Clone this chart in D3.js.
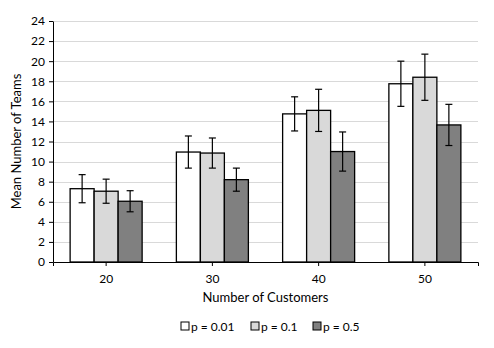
<!DOCTYPE html>
<html>
<head>
<meta charset="utf-8">
<script src="https://cdn.jsdelivr.net/npm/d3@7"></script>
<style>
  body { margin: 0; background: #fff; }
  text { font-family: Lato, "Open Sans", sans-serif; fill: #000; }
</style>
</head>
<body>
<script>
// chart data
var categories = ["20", "30", "40", "50"];
var seriesNames = ["p = 0.01", "p = 0.1", "p = 0.5"];
var seriesColors = ["#ffffff", "#d9d9d9", "#808080"];
var meanP001 = [7.3, 10.95, 14.75, 17.75];
var meanP01  = [7.05, 10.85, 15.1, 18.4];
var meanP05  = [6.05, 8.2, 11.0, 13.65];
var errP001 = [1.4, 1.6, 1.7, 2.25];
var errP01  = [1.2, 1.5, 2.1, 2.3];
var errP05  = [1.05, 1.15, 1.95, 2.05];
var yTicks = [0, 2, 4, 6, 8, 10, 12, 14, 16, 18, 20, 22, 24];

var means = [meanP001, meanP01, meanP05];
var errs = [errP001, errP01, errP05];

var width = 494, height = 348;
var margin = {top: 21, right: 16, bottom: 86, left: 53};
var plotW = width - margin.left - margin.right,
    plotH = height - margin.top - margin.bottom;

var svg = d3.select("body").append("svg")
            .attr("width", width)
            .attr("height", height);

var g = svg.append("g")
           .attr("transform", "translate(" + margin.left + "," + margin.top + ")");

var x = d3.scaleBand().domain(categories).range([0, plotW]).paddingInner(0).paddingOuter(0);
var xs = d3.scaleBand().domain(d3.range(seriesNames.length))
           .range([0, 72]);
var groupOffset = (x.bandwidth() - 72) / 2;
var y = d3.scaleLinear().domain([0, 24]).range([plotH, 0]);

// gridlines
g.selectAll("line.grid")
 .data(yTicks.slice(1))
 .enter()
 .append("line")
 .attr("class", "grid")
 .attr("x1", 0).attr("x2", plotW)
 .attr("y1", function(d){ return Math.round(y(d)) + 0.5; })
 .attr("y2", function(d){ return Math.round(y(d)) + 0.5; })
 .attr("stroke", "#d9d9d9")
 .attr("stroke-width", 1);

// flatten data into bar records
var bars = [];
categories.forEach(function(c, i){
  seriesNames.forEach(function(s, j){
    bars.push({cat: c, s: j, v: means[j][i], e: errs[j][i]});
  });
});

var barX = function(d){ return x(d.cat) + groupOffset + xs(d.s); };

g.selectAll("rect.bar")
 .data(bars)
 .enter()
 .append("rect")
 .attr("class", "bar")
 .attr("x", barX)
 .attr("y", function(d){ return y(d.v); })
 .attr("width", xs.bandwidth())
 .attr("height", function(d){ return plotH - y(d.v); })
 .attr("fill", function(d){ return seriesColors[d.s]; })
 .attr("stroke", "#000")
 .attr("stroke-width", 1.3);

// error bars
var eb = g.selectAll("g.err")
          .data(bars)
          .enter()
          .append("g")
          .attr("class", "err")
          .attr("stroke", "#000")
          .attr("stroke-width", 1.2);

var cx = function(d){ return barX(d) + xs.bandwidth() / 2; };
eb.append("line")
  .attr("x1", cx).attr("x2", cx)
  .attr("y1", function(d){ return y(d.v + d.e); })
  .attr("y2", function(d){ return y(d.v - d.e); });
eb.append("line")
  .attr("x1", function(d){ return cx(d) - 3.5; })
  .attr("x2", function(d){ return cx(d) + 3.5; })
  .attr("y1", function(d){ return y(d.v + d.e); })
  .attr("y2", function(d){ return y(d.v + d.e); });
eb.append("line")
  .attr("x1", function(d){ return cx(d) - 3.5; })
  .attr("x2", function(d){ return cx(d) + 3.5; })
  .attr("y1", function(d){ return y(d.v - d.e); })
  .attr("y2", function(d){ return y(d.v - d.e); });

// y axis
var yAxis = g.append("g")
             .call(d3.axisLeft(y).tickValues(yTicks).tickSize(4).tickSizeOuter(0).tickPadding(4));
yAxis.select(".domain").attr("stroke", "#000");
yAxis.selectAll("text").style("font-size", "12px");

// x axis
var xAxis = g.append("g")
             .attr("transform", "translate(0," + plotH + ")")
             .call(d3.axisBottom(x).tickSize(4).tickSizeOuter(4).tickPadding(8));
xAxis.select(".domain").attr("stroke", "#000");
xAxis.selectAll("text").style("font-size", "12px");

// axis titles
svg.append("text")
   .attr("x", margin.left + plotW / 2)
   .attr("y", 302)
   .attr("text-anchor", "middle")
   .style("font-size", "13px")
   .text("Number of Customers");

svg.append("text")
   .attr("transform", "translate(21," + (margin.top + plotH / 2) + ") rotate(-90)")
   .attr("text-anchor", "middle")
   .style("font-size", "13px")
   .text("Mean Number of Teams");

// legend
var legendX = [181, 251, 313];
var legend = svg.selectAll("g.legend")
                .data(seriesNames)
                .enter()
                .append("g")
                .attr("class", "legend")
                .attr("transform", function(d, i){ return "translate(" + legendX[i] + ",322)"; });
legend.append("rect")
      .attr("width", 8).attr("height", 8)
      .attr("fill", function(d, i){ return seriesColors[i]; })
      .attr("stroke", "#000")
      .attr("stroke-width", 1);
legend.append("text")
      .attr("x", 10).attr("y", 8.5)
      .style("font-size", "12px")
      .text(function(d){ return d; });
</script>
</body>
</html>
